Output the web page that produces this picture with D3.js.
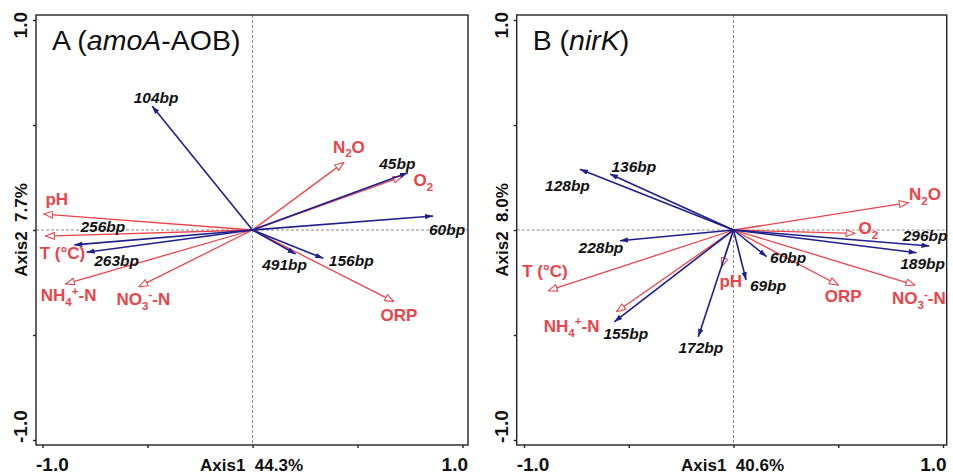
<!DOCTYPE html>
<html>
<head>
<meta charset="utf-8">
<script src="https://cdn.jsdelivr.net/npm/d3@7"></script>
<style>
  html, body { margin: 0; padding: 0; background: #fff; }
  svg { display: block; font-family: "Liberation Sans", Arial, sans-serif; }
</style>
</head>
<body>
<svg id="chart" width="953" height="474"></svg>
<script>
// ---------------- DATA ----------------
// Panel A (amoA-AOB): species arrows (blue)
const speciesA  = ["104bp", "45bp", "60bp", "256bp", "263bp", "491bp", "156bp"];
const speciesAx = [-0.478, 0.740, 0.860, -0.848, -0.790, 0.205, 0.337];
const speciesAy = [0.590, 0.273, 0.067, -0.071, -0.106, -0.114, -0.135];
// Panel A environmental arrows (red)
const envA  = ["N_2O", "O_2", "pH", "T (°C)", "NH_4^+-N", "NO_3^--N", "ORP"];
const envAx = [0.435, 0.713, -0.994, -0.986, -0.890, -0.541, 0.673];
const envAy = [0.322, 0.254, 0.076, -0.029, -0.257, -0.270, -0.341];

// Panel B (nirK): species arrows (blue)
const speciesB  = ["128bp", "136bp", "228bp", "155bp", "172bp", "69bp", "60bp", "189bp", "296bp"];
const speciesBx = [-0.733, -0.590, -0.542, -0.569, -0.168, 0.060, 0.158, 0.874, 0.935];
const speciesBy = [0.289, 0.267, -0.051, -0.437, -0.508, -0.238, -0.127, -0.108, -0.076];
// Panel B environmental arrows (red)
const envB  = ["T (°C)", "NH_4^+-N", "pH", "ORP", "NO_3^--N", "O_2", "N_2O"];
const envBx = [-0.884, -0.558, -0.056, 0.500, 0.866, 0.580, 0.834];
const envBy = [-0.289, -0.389, -0.175, -0.262, -0.262, -0.016, 0.130];

// Titles and axis labels
const panelTitles = [["A (", "amoA", "-AOB)"], ["B (", "nirK", ")"]];
const axis1Labels = ["Axis1  44.3%", "Axis1  40.6%"];
const axis2Labels = ["Axis2  7.7%", "Axis2  8.0%"];
const tickValues = [-1, -0.5, 0, 0.5, 1];
const tickLabels = ["-1.0", "1.0"];

// ---------------- LAYOUT (label offsets in px from arrow tip) ----------------
const speciesAOff = [[4,-9],[-10.6,-9],[14,13],[28.5,-18],[30,8],[-11,10],[28,2]];
const envAOff     = [[5,-16],[21,3],[13,-15],[17,17],[3,11],[4.5,12],[5,13]];
const speciesBOff = [[-12.5,16],[24,-7.5],[-19,6.5],[11.5,12],[2.5,10.5],[22,5],[21.6,0.5],[6,11],[-4.3,-10.5]];
const envBOff     = [[-3.3,-19.7],[-45,14],[9,14],[5,11],[4,13],[13.3,-5.6],[16.7,-8.4]];

const RED = "#e8454b";
const BLUE = "#1f1f8e";

const panels = [
  { title: panelTitles[0], ax1: axis1Labels[0], ax2: axis2Labels[0],
    xr: [42.5, 462.5], box: [36, 468], ylab: 27,
    sp: speciesA, spx: speciesAx, spy: speciesAy, spo: speciesAOff,
    en: envA, enx: envAx, eny: envAy, eno: envAOff },
  { title: panelTitles[1], ax1: axis1Labels[1], ax2: axis2Labels[1],
    xr: [524, 943], box: [516.7, 946.7], ylab: 508,
    sp: speciesB, spx: speciesBx, spy: speciesBy, spo: speciesBOff,
    en: envB, enx: envBx, eny: envBy, eno: envBOff }
];

const svg = d3.select("#chart");
const defs = svg.append("defs");
defs.append("marker").attr("id", "headRed")
  .attr("viewBox", "0 0 10 8").attr("refX", 9.5).attr("refY", 4)
  .attr("markerWidth", 10).attr("markerHeight", 8)
  .attr("markerUnits", "userSpaceOnUse").attr("orient", "auto")
  .append("path").attr("d", "M0.6,0.6 L9.5,4 L0.6,7.4 Z")
  .attr("fill", "#fff").attr("stroke", RED).attr("stroke-width", 1.1);
defs.append("marker").attr("id", "headBlue")
  .attr("viewBox", "0 0 8 6").attr("refX", 8).attr("refY", 3)
  .attr("markerWidth", 8).attr("markerHeight", 6)
  .attr("markerUnits", "userSpaceOnUse").attr("orient", "auto")
  .append("path").attr("d", "M0,0.3 L8,3 L0,5.7 Z").attr("fill", BLUE);

function richText(sel, label, fs) {
  // "_c" subscript, "^c" superscript
  let shift = 0;
  for (let i = 0; i < label.length; i++) {
    let ch = label[i];
    let target = 0, small = false;
    if ((ch === "_" || ch === "^") && i + 1 < label.length) {
      target = ch === "_" ? 0.28 * fs : -0.38 * fs;
      small = true;
      ch = label[++i];
    }
    const t = sel.append("tspan").text(ch).attr("dy", target - shift);
    if (small) t.attr("font-size", fs * 0.68);
    shift = target;
  }
}

panels.forEach(p => {
  const x = d3.scaleLinear().domain([-1, 1]).range(p.xr);
  const y = d3.scaleLinear().domain([-1, 1]).range([440, 20]);
  const g = svg.append("g");
  const top = 15, bot = 445;

  // dashed zero lines
  g.append("line").attr("x1", x(0)).attr("x2", x(0)).attr("y1", top).attr("y2", bot)
    .attr("stroke", "#8a8a8a").attr("stroke-width", 1).attr("stroke-dasharray", "3,2");
  g.append("line").attr("x1", p.box[0]).attr("x2", p.box[1]).attr("y1", y(0)).attr("y2", y(0))
    .attr("stroke", "#8a8a8a").attr("stroke-width", 1).attr("stroke-dasharray", "3,2");

  // box
  g.append("rect").attr("x", p.box[0]).attr("y", top)
    .attr("width", p.box[1] - p.box[0]).attr("height", bot - top)
    .attr("fill", "none").attr("stroke", "#222").attr("stroke-width", 1.4);

  // ticks via axes
  const ax = g.append("g").attr("transform", `translate(0,${bot})`)
    .call(d3.axisBottom(x).tickValues(tickValues).tickSize(3).tickFormat(""));
  ax.select(".domain").remove();
  ax.selectAll("line").attr("stroke", "#222").attr("stroke-width", 1.4);
  const ay = g.append("g").attr("transform", `translate(${p.box[0]},0)`)
    .call(d3.axisLeft(y).tickValues(tickValues).tickSize(3).tickFormat(""));
  ay.select(".domain").remove();
  ay.selectAll("line").attr("stroke", "#222").attr("stroke-width", 1.4);

  // tick labels
  const tfs = 19;
  g.append("text").attr("x", p.box[0]).attr("y", 471).attr("text-anchor", "start")
    .attr("font-size", tfs).attr("font-weight", "bold").attr("fill", "#111").text(tickLabels[0]);
  g.append("text").attr("x", p.box[1]).attr("y", 471).attr("text-anchor", "end")
    .attr("font-size", tfs).attr("font-weight", "bold").attr("fill", "#111").text(tickLabels[1]);
  g.append("text").attr("transform", `translate(${p.ylab},443) rotate(-90)`).attr("text-anchor", "start")
    .attr("font-size", tfs).attr("font-weight", "bold").attr("fill", "#111").text(tickLabels[0]);
  g.append("text").attr("transform", `translate(${p.ylab},12) rotate(-90)`).attr("text-anchor", "end")
    .attr("font-size", tfs).attr("font-weight", "bold").attr("fill", "#111").text(tickLabels[1]);

  // axis titles
  g.append("text").attr("x", x(0) - 1).attr("y", 471).attr("text-anchor", "middle")
    .attr("font-size", 17).attr("font-weight", "bold").attr("fill", "#111")
    .attr("xml:space", "preserve").style("white-space", "pre").text(p.ax1);
  g.append("text").attr("transform", `translate(${p.ylab},${y(0)}) rotate(-90)`).attr("text-anchor", "middle")
    .attr("font-size", 17).attr("font-weight", "bold").attr("fill", "#111")
    .style("white-space", "pre").text(p.ax2);

  // panel title
  const tt = g.append("text").attr("x", p.box[0] + 16).attr("y", 50)
    .attr("font-size", 28.5).attr("fill", "#111");
  tt.append("tspan").text(p.title[0]);
  tt.append("tspan").attr("font-style", "italic").text(p.title[1]);
  tt.append("tspan").text(p.title[2]);

  // env arrows (red)
  const env = p.en.map((n, i) => ({ n, vx: p.enx[i], vy: p.eny[i], o: p.eno[i] }));
  const sp = p.sp.map((n, i) => ({ n, vx: p.spx[i], vy: p.spy[i], o: p.spo[i] }));

  g.selectAll(".env").data(env).enter().append("line")
    .attr("x1", x(0)).attr("y1", y(0))
    .attr("x2", d => x(d.vx)).attr("y2", d => y(d.vy))
    .attr("stroke", RED).attr("stroke-width", 1.3)
    .attr("marker-end", "url(#headRed)");

  g.selectAll(".sp").data(sp).enter().append("line")
    .attr("x1", x(0)).attr("y1", y(0))
    .attr("x2", d => x(d.vx)).attr("y2", d => y(d.vy))
    .attr("stroke", BLUE).attr("stroke-width", 1.6)
    .attr("marker-end", "url(#headBlue)");

  // labels
  const efs = 17;
  env.forEach(d => {
    const t = g.append("text")
      .attr("x", x(d.vx) + d.o[0]).attr("y", y(d.vy) + d.o[1] + 0.36 * efs)
      .attr("text-anchor", "middle").attr("font-size", efs).attr("font-weight", "bold")
      .attr("fill", RED);
    richText(t, d.n, efs);
  });
  const sfs = 15.5;
  sp.forEach(d => {
    g.append("text")
      .attr("x", x(d.vx) + d.o[0]).attr("y", y(d.vy) + d.o[1] + 0.36 * sfs)
      .attr("text-anchor", "middle").attr("font-size", sfs).attr("font-weight", "bold")
      .attr("font-style", "italic").attr("fill", "#111").text(d.n);
  });
});
</script>
</body>
</html>
